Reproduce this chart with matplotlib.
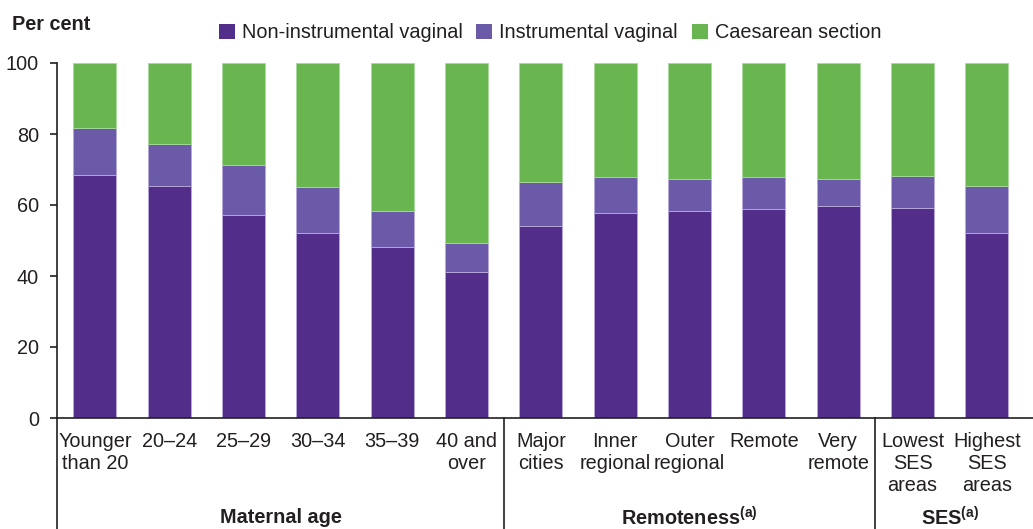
import matplotlib
matplotlib.use("Agg")
import matplotlib.pyplot as plt
import numpy as np

plt.rcParams['font.family'] = ['Liberation Sans', 'DejaVu Sans']
plt.rcParams['mathtext.fontset'] = 'custom'
plt.rcParams['mathtext.rm'] = 'Liberation Sans'
plt.rcParams['mathtext.bf'] = 'Liberation Sans:bold'

categories = ["Younger\nthan 20", "20\u201324", "25\u201329", "30\u201334", "35\u201339", "40 and\nover",
              "Major\ncities", "Inner\nregional", "Outer\nregional", "Remote", "Very\nremote",
              "Lowest\nSES\nareas", "Highest\nSES\nareas"]
non_instrumental = [68.5, 65.4, 57.3, 52.2, 48.1, 41.2, 54.2, 57.7, 58.2, 59.0, 59.6, 59.1, 52.0]
instrumental = [13.2, 11.9, 14.0, 13.0, 10.2, 8.0, 12.2, 10.3, 9.0, 9.0, 7.8, 9.0, 13.4]
caesarean = [100 - a - b for a, b in zip(non_instrumental, instrumental)]

groups = ["Maternal age", "Remoteness", "SES"]
group_sizes = [6, 5, 2]
group_super = [False, True, True]

series_names = ["Non-instrumental vaginal", "Instrumental vaginal", "Caesarean section"]
colors = ["#532D8A", "#6A5AA7", "#69B651"]
text_color = "#231F20"
fs = 14.3

fig = plt.figure(figsize=(10.33, 5.29), dpi=100)
W, H = 1033, 529
ax = fig.add_axes([57 / W, 1 - 418 / H, (W - 57) / W, 355 / H])

x = np.arange(len(categories))
width = 0.58
b1 = ax.bar(x, non_instrumental, width, color=colors[0], edgecolor="#B9A9DD", linewidth=0.6, label=series_names[0])
b2 = ax.bar(x, instrumental, width, bottom=non_instrumental, color=colors[1], edgecolor="#B9A9DD",
            linewidth=0.6, label=series_names[1])
bottoms = [a + b for a, b in zip(non_instrumental, instrumental)]
b3 = ax.bar(x, caesarean, width, bottom=bottoms, color=colors[2], edgecolor="#A8D99A", linewidth=0.6,
            label=series_names[2])

ax.set_xlim(-0.51, 12.62)
ax.set_ylim(0, 100)
ax.set_yticks([0, 20, 40, 60, 80, 100])
ax.tick_params(axis='y', direction='out', length=5, width=1.2, colors=text_color, labelsize=fs, pad=8)
ax.set_xticks(x)
ax.set_xticklabels(categories, fontsize=fs, color=text_color, linespacing=1.2)
ax.tick_params(axis='x', length=0, pad=10)
for s in ['top', 'right']:
    ax.spines[s].set_visible(False)
ax.spines['left'].set_linewidth(1.2)
ax.spines['bottom'].set_linewidth(1.2)
ax.spines['left'].set_color(text_color)
ax.spines['bottom'].set_color(text_color)

# group separators and labels
trans = ax.get_xaxis_transform()
ybot = -(H - 418) / 355
start = 0
bounds = [-0.51]
for g, n, sup in zip(groups, group_sizes, group_super):
    end = start + n
    center = (start + end - 1) / 2
    label = r"$\mathbf{" + g + r"}^{\mathbf{(a)}}$" if sup else g
    ax.text(center, -(517.5 - 418) / 355, label, transform=trans, ha='center', va='center',
            fontsize=fs, fontweight='bold', color=text_color, clip_on=False)
    if end < len(categories):
        bounds.append(end - 0.5)
    start = end
for bx in bounds:
    ax.plot([bx, bx], [0, ybot], transform=trans, color=text_color, linewidth=1.2, clip_on=False)

fig.text(12 / W, 1 - 24 / H, "Per cent", fontsize=fs, fontweight='bold', color=text_color,
         ha='left', va='center')

leg = fig.legend([b1, b2, b3], series_names, loc='center', bbox_to_anchor=(550 / W, 1 - 33 / H), ncol=3,
                 frameon=False, fontsize=fs, handlelength=0.8, handleheight=0.8, handletextpad=0.35,
                 columnspacing=0.7, borderpad=0, borderaxespad=0)
for t in leg.get_texts():
    t.set_color(text_color)
for h in leg.legend_handles:
    h.set_edgecolor('none')

fig.savefig("out.png", dpi=100)
